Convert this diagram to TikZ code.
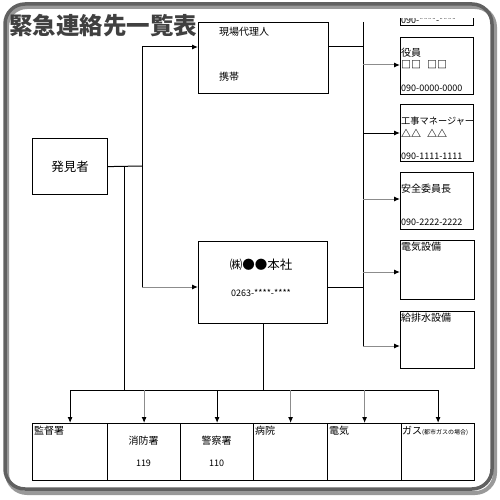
\documentclass[tikz,border=0pt]{standalone}
\usepackage{fontspec}
\setmainfont{Noto Sans CJK JP}
\usetikzlibrary{arrows.meta}

\tikzset{
  box/.style={draw,line width=1.2pt,anchor=north west,inner sep=0pt},
  lbl/.style={anchor=west,inner sep=0pt,font=\fontsize{10}{12}\selectfont},
  num/.style={anchor=west,inner sep=0pt,font=\fontsize{9}{11}\selectfont},
  link/.style={line width=1pt},
  arr/.style={line width=1pt,-{Latex[length=6pt,width=5pt,color=black]}},
  grayline/.style={black!45},
}

\begin{document}
\begin{tikzpicture}[x=1pt,y=-1pt]
  \useasboundingbox (0,0) rectangle (500,500);
  % outer frame
  \draw[line width=4pt,black!40,rounded corners=20pt] (7,7) rectangle (495,493);
  \draw[line width=3.5pt,black!62,rounded corners=20pt] (5,4) rectangle (492,489);
  \node[anchor=west,inner sep=0pt,text=black!75,font=\bfseries\fontsize{23.5}{24}\selectfont] (title) at (9,26) {緊急連絡先一覧表};

  % box cut off at the top
  \begin{scope}
    \clip (390,19) rectangle (480,30);
    \node[box,minimum width=73pt,minimum height=40pt] (top) at (400,-15) {};
    \node[num,anchor=base west] (topnum) at (401,23.5) {090-****-****};
  \end{scope}

  % right column
  \node[box,minimum width=73pt,minimum height=57pt] (yaku) at (400,37) {};
  \node[lbl] (yakuA) at (401,53) {役員};
  \node[lbl,font=\bfseries\fontsize{10}{12}\selectfont] (yakuB) at (401,65) {□□\hspace{6pt}□□};
  \node[num] (yakuC) at (401,88) {090-0000-0000};
  \node[box,minimum width=73pt,minimum height=57pt] (kouji) at (400,104) {};
  \node[lbl,font=\fontsize{9.2}{11}\selectfont] (koujiA) at (401,121) {工事マネージャー};
  \node[lbl,font=\bfseries\fontsize{10}{12}\selectfont] (koujiB) at (401,133) {△△\hspace{6pt}△△};
  \node[num] (koujiC) at (401,156) {090-1111-1111};
  \node[box,minimum width=73pt,minimum height=57pt] (anzen) at (400,172) {};
  \node[lbl] (anzenA) at (401,189) {安全委員長};
  \node[num] (anzenC) at (401,222) {090-2222-2222};
  \node[box,minimum width=74pt,minimum height=59pt] (setsubi) at (400,240) {};
  \node[lbl] (setsubiA) at (401,247) {電気設備};
  \node[box,minimum width=74pt,minimum height=57pt] (suido) at (400,311) {};
  \node[lbl] (suidoA) at (401,318) {給排水設備};

  % left side
  \node[box,minimum width=75pt,minimum height=56pt,font=\fontsize{12.5}{13}\selectfont] (hakken) at (32,138) {発見者};
  \node[box,minimum width=130pt,minimum height=71pt] (genba) at (198,22) {};
  \node[lbl] (genbaA) at (219,32) {現場代理人};
  \node[lbl] (genbaB) at (219,77) {携帯};
  \node[box,minimum width=129pt,minimum height=82pt] (honsha) at (198,241) {};
  \node[inner sep=0pt,font=\fontsize{12.5}{13}\selectfont] (honshaA) at (261,265) {㈱●●本社};
  \node[inner sep=0pt,font=\fontsize{9}{11}\selectfont] (honshaB) at (261,293) {0263-****-****};

  % bottom row
  \node[box,minimum width=75pt,minimum height=57pt] (kantoku) at (32,423) {};
  \node[lbl] (kantokuA) at (34,431) {監督署};
  \node[box,minimum width=73pt,minimum height=57pt] (shobo) at (107,423) {};
  \node[inner sep=0pt,font=\fontsize{10}{12}\selectfont] (shoboA) at (143.5,441) {消防署};
  \node[inner sep=0pt,font=\fontsize{9}{11}\selectfont] (shoboB) at (143.5,463) {119};
  \node[box,minimum width=73pt,minimum height=57pt] (keisatsu) at (180,423) {};
  \node[inner sep=0pt,font=\fontsize{10}{12}\selectfont] (keisatsuA) at (216.5,441) {警察署};
  \node[inner sep=0pt,font=\fontsize{9}{11}\selectfont] (keisatsuB) at (216.5,463) {110};
  \node[box,minimum width=74pt,minimum height=57pt] (byoin) at (253,423) {};
  \node[lbl] (byoinA) at (255,431) {病院};
  \node[box,minimum width=74pt,minimum height=57pt] (denki) at (327,423) {};
  \node[lbl] (denkiA) at (329,431) {電気};
  \node[box,minimum width=73pt,minimum height=57pt] (gas) at (401,423) {};
  \node[lbl] (gasA) at (402,431) {ガス{\fontsize{6}{7}\selectfont(都市ガスの場合)}};

  % connectors
  \coordinate (busT) at (363,22);
  \coordinate (busB) at (363,346);
  \draw[link] (busT) -- (busB);
  \coordinate (r1) at (363,65);
  \coordinate (r2) at (363,133);
  \coordinate (r3) at (363,199);
  \coordinate (r4) at (363,272);
  \coordinate (r5) at (363,346);
  \draw[arr,grayline] (r1) -- (r1 -| yaku.west);
  \draw[arr] (r2) -- (r2 -| kouji.west);
  \draw[arr,grayline] (r3) -- (r3 -| anzen.west);
  \draw[arr,grayline] (r4) -- (r4 -| setsubi.west);
  \draw[arr,grayline] (r5) -- (r5 -| suido.west);

  \coordinate (split) at (142,166);
  \coordinate (g1) at (142,47);
  \coordinate (g2) at (142,287);
  \draw[link] (hakken.east) -- (split);
  \draw[link] (g1) -- (g2);
  \draw[arr] (g1) -- (g1 -| genba.west);
  \draw[arr,grayline] (g2) -- (g2 -| honsha.west);
  \draw[link] (g1 -| genba.east) -- (g1 -| busT);
  \draw[link] (g2 -| honsha.east) -- (g2 -| busT);

  \coordinate (d1) at (124,166);
  \coordinate (dB) at (124,390);
  \draw[link] (d1) -- (dB);
  \draw[link] (honsha.south) -- (honsha.south |- dB);
  \draw[link] (kantoku.north |- dB) -- (gas.north |- dB);
  \draw[arr] (kantoku.north |- dB) -- (kantoku.north);
  \draw[arr,grayline] (shobo.north |- dB) -- (shobo.north);
  \draw[arr] (keisatsu.north |- dB) -- (keisatsu.north);
  \draw[arr,grayline] (byoin.north |- dB) -- (byoin.north);
  \draw[arr,grayline] (denki.north |- dB) -- (denki.north);
  \draw[arr] (gas.north |- dB) -- (gas.north);
\end{tikzpicture}
\end{document}
